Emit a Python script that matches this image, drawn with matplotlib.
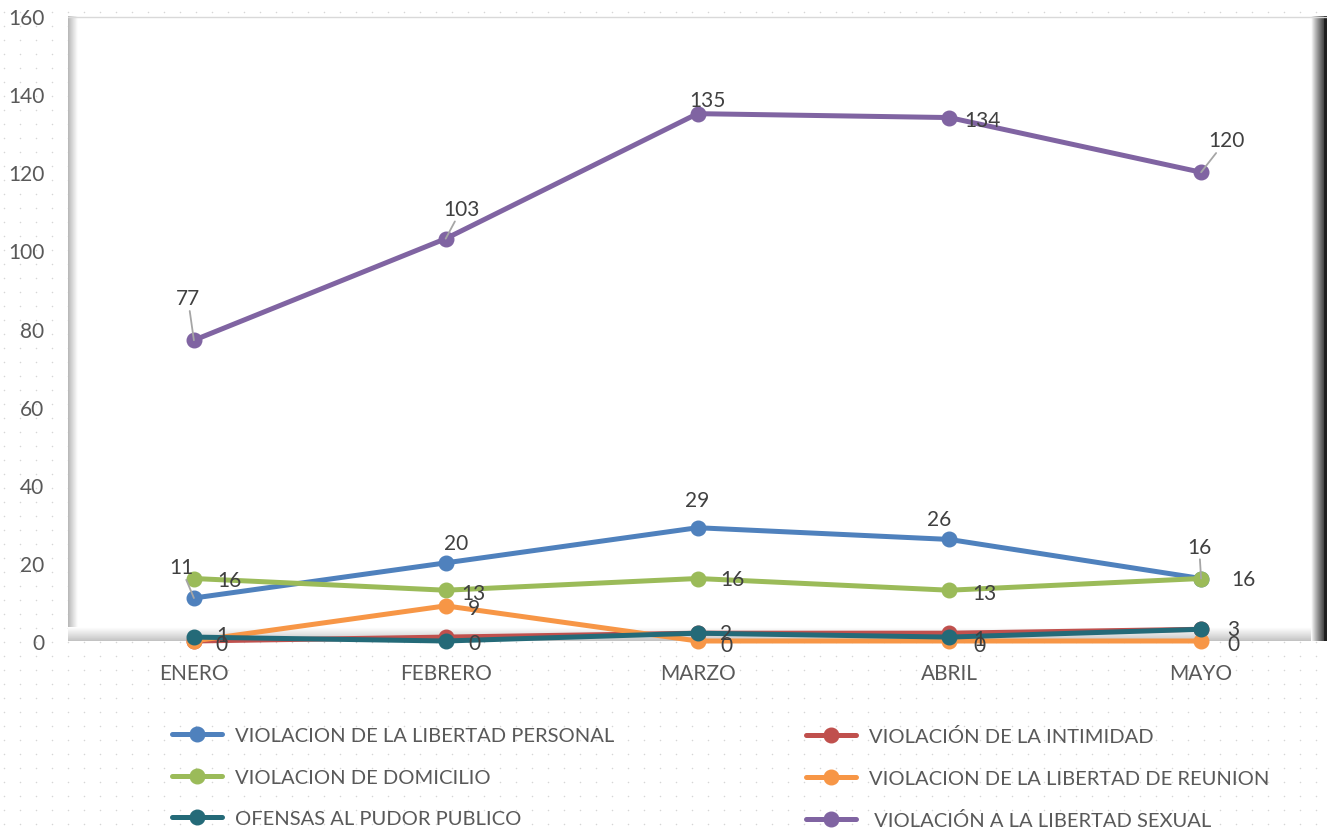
import numpy as np
import matplotlib.pyplot as plt

plt.rcParams['font.family'] = ['Lato', 'DejaVu Sans']

# datos
meses = ["ENERO", "FEBRERO", "MARZO", "ABRIL", "MAYO"]
libertad_personal = [11, 20, 29, 26, 16]
intimidad = [0, 1, 2, 2, 3]
domicilio = [16, 13, 16, 13, 16]
reunion = [0, 9, 0, 0, 0]
pudor_publico = [1, 0, 2, 1, 3]
libertad_sexual = [77, 103, 135, 134, 120]

nombres = [
    "VIOLACION DE LA LIBERTAD PERSONAL",
    "VIOLACIÓN DE LA INTIMIDAD",
    "VIOLACION DE DOMICILIO",
    "VIOLACION DE LA LIBERTAD DE REUNION",
    "OFENSAS AL PUDOR PUBLICO",
    " VIOLACIÓN A LA LIBERTAD SEXUAL",
]
valores = [libertad_personal, intimidad, domicilio, reunion, pudor_publico, libertad_sexual]
colores = ["#4F81BD", "#C0504D", "#9BBB59", "#F79646", "#246A78", "#8064A2"]

# posicion de etiquetas (px: dx, dy, linea guia); None = sin etiqueta
etiquetas = [
    [(-13, 31, True), (10, 20, False), (0, 28, False), (-10, 20, False), (-2, 32, True)],
    None,
    [(35, -2, False), (28, -3, False), (35, -1, False), (35, -3, False), (42, -1, False)],
    [(28, -3, False), (28, -2, False), (29, -4, False), (30, -4, False), (32, -3, False)],
    [(28, 2, False), (29, -2, False), (29, 0, False), (30, -2, False), (32, 0, False)],
    [(-6, 42, True), (16, 30, True), (10, 14, False), (33, -2, False), (25, 32, True)],
]

W, H = 1329, 829
fig = plt.figure(figsize=(W / 100, H / 100), dpi=100)

# fondo punteado
bg = fig.add_axes([0, 0, 1, 1], zorder=-2)
gx, gy = np.meshgrid(np.arange(4, W, 16), np.arange(4, H, 14))
bg.scatter(gx.ravel(), gy.ravel(), s=1.2, color="#d6d6d6", linewidths=0)
bg.set_xlim(0, W)
bg.set_ylim(0, H)
bg.axis("off")

pos = [68 / W, (H - 642) / H, 1259 / W, 625 / H]

# marco con sombra
fr = fig.add_axes(pos, zorder=0)
fw, fh = 1259, 625
fr.add_patch(plt.Rectangle((0, 0), fw, fh, color="white", zorder=0))
fr.imshow(np.linspace(0.62, 1.0, 30)[None, :] ** 0.7, extent=[0, 10, 0, fh], cmap="gray",
          vmin=0, vmax=1, aspect="auto", zorder=1)
fr.imshow(np.linspace(0.58, 1.0, 30)[:, None] ** 0.5, extent=[0, fw, 0, 14], cmap="gray",
          vmin=0, vmax=1, aspect="auto", origin="lower", zorder=2)
fr.imshow(np.linspace(1.0, 0.3, 30)[None, :] ** 1.5, extent=[fw - 16, fw, 0, fh], cmap="gray",
          vmin=0, vmax=1, aspect="auto", zorder=3)
fr.plot([fw - 1.5, fw - 1.5], [0, fh], color="#1e1e1e", lw=2, zorder=4)
fr.plot([0, fw], [fh - 0.5, fh - 0.5], color="#d9d9d9", lw=1, zorder=4)
fr.set_xlim(0, fw)
fr.set_ylim(0, fh)
fr.axis("off")

ax = fig.add_axes(pos, zorder=1)
ax.set_facecolor("none")
x = np.arange(len(meses))
for nombre, vals, col in zip(nombres, valores, colores):
    ax.plot(x, vals, color=col, lw=3.6, marker="o", markersize=10.5,
            solid_capstyle="round", clip_on=False, label=nombre)

for vals, pos_et in zip(valores, etiquetas):
    if pos_et is None:
        continue
    for i, (v, (dx, dy, guia)) in enumerate(zip(vals, pos_et)):
        ap = dict(arrowstyle="-", color="#a6a6a6", lw=1.3, shrinkA=0, shrinkB=0) if guia else None
        ax.annotate(str(v), xy=(i, v), xytext=(dx * 0.72, dy * 0.72), textcoords="offset points",
                    ha="center", va="center", fontsize=15, color="#404040",
                    arrowprops=ap, annotation_clip=False, zorder=10)

ax.set_xlim(-0.5, 4.5)
ax.set_ylim(0, 160)
ax.set_xticks(x)
ax.set_xticklabels(meses)
ax.set_yticks(np.arange(0, 161, 20))
ax.tick_params(axis="both", length=0, labelsize=15, labelcolor="#595959")
ax.tick_params(axis="x", pad=16)
ax.tick_params(axis="y", pad=17)
for s in ax.spines.values():
    s.set_visible(False)

# leyenda en dos columnas
lineas = ax.get_lines()
kw = dict(frameon=False, fontsize=14.5, labelcolor="#595959", handlelength=2.5,
          handletextpad=0.62, labelspacing=1.22, borderpad=0, borderaxespad=0,
          bbox_transform=fig.transFigure, loc="upper left")
fig.legend([lineas[0], lineas[2], lineas[4]], [nombres[0], nombres[2], nombres[4]],
           bbox_to_anchor=(172 / W, (H - 728) / H), **kw)
fig.legend([lineas[1], lineas[3], lineas[5]], [nombres[1], nombres[3], nombres[5]],
           bbox_to_anchor=(806 / W, (H - 728) / H), **kw)

fig.savefig("out.png", dpi=100)
